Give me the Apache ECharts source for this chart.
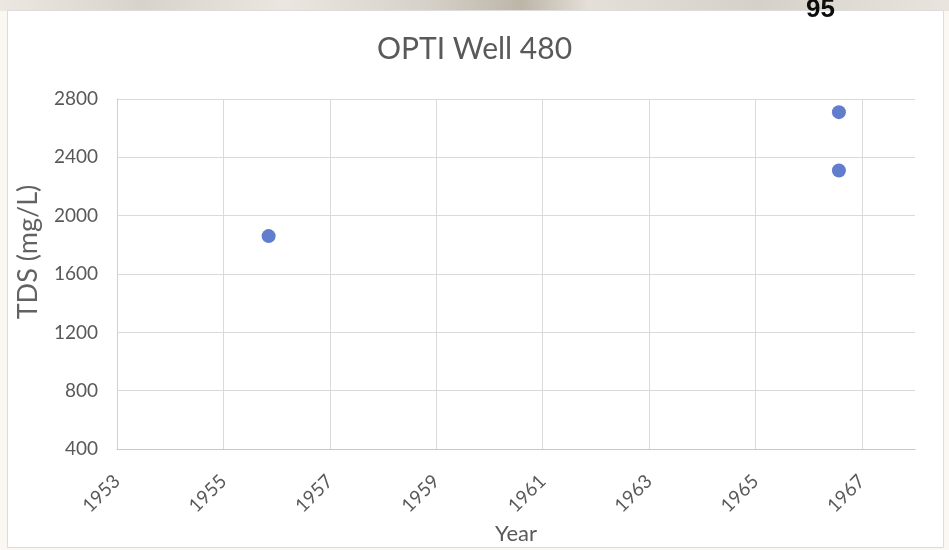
<!DOCTYPE html>
<html>
<head>
<meta charset="utf-8">
<script src="https://cdn.jsdelivr.net/npm/echarts@6/dist/echarts.min.js"></script>
<style>
  html, body { margin: 0; padding: 0; background: #fbf8f3; }
  #chart { width: 949px; height: 550px; }
</style>
</head>
<body>
<div id="chart"></div>
<script>
// Sample dates (decimal years) and total dissolved solids readings
const sampleYears = [1955.85, 1966.57, 1966.57];
const tdsValues = [1860, 2710, 2310];

// Axis ranges and tick labels
const yearStart = 1953;
const yearEnd = 1968;
const yearStep = 2;
const tdsMin = 400;
const tdsMax = 2800;
const tdsStep = 400;

const chartTitle = 'OPTI Well 480';
const pageNumber = '95';

const points = sampleYears.map((y, i) => [y, tdsValues[i]]);
const labelFont = 'Lato, "Open Sans", sans-serif';
const textColor = '#595959';

const chart = echarts.init(document.getElementById('chart'), null, { renderer: 'canvas' });

chart.setOption({
  animation: false,
  backgroundColor: '#fbf8f3',
  title: {
    text: chartTitle,
    left: 'center',
    top: 29,
    textStyle: { fontFamily: labelFont, fontSize: 30, fontWeight: 'normal', color: textColor }
  },
  graphic: [
    // textured strip along the top of the page
    {
      type: 'rect', z: -10, silent: true,
      shape: { x: 0, y: 0, width: 949, height: 11 },
      style: {
        fill: {
          type: 'linear', x: 0, y: 0, x2: 1, y2: 0,
          colorStops: [
            { offset: 0, color: '#ece8e1' }, { offset: 0.15, color: '#d8d3ca' },
            { offset: 0.3, color: '#ebe7e0' }, { offset: 0.45, color: '#d6d1c8' },
            { offset: 0.55, color: '#bdb5a8' }, { offset: 0.62, color: '#e4dfd7' },
            { offset: 0.8, color: '#d6d1c8' }, { offset: 1, color: '#e9e5de' }
          ]
        }
      }
    },
    // chart card
    {
      type: 'rect', z: -9, silent: true,
      shape: { x: 7.5, y: 10.5, width: 936, height: 537 },
      style: { fill: '#ffffff', stroke: '#dcdcdc', lineWidth: 1 }
    },
    // page number
    {
      type: 'text', z: 10, silent: true,
      left: 806, top: -3,
      style: {
        text: pageNumber,
        font: 'bold 26px "Liberation Sans", Arial, sans-serif',
        fill: '#0d0d0d'
      }
    }
  ],
  grid: { left: 117, right: 34, top: 99, bottom: 100, containLabel: false },
  xAxis: [
    {
      // data axis in calendar years
      type: 'value',
      min: yearStart,
      max: yearEnd,
      show: false
    },
    {
      // labelled axis: offsets from the first year, ticks every two years
      type: 'value',
      position: 'bottom',
      min: 0,
      max: yearEnd - yearStart,
      interval: yearStep,
      name: 'Year',
      nameLocation: 'middle',
      nameGap: 72,
      nameTextStyle: { fontFamily: labelFont, fontSize: 22, color: textColor },
      axisLine: { show: true, lineStyle: { color: '#c8c8c8', width: 1 } },
      axisTick: { show: false },
      axisLabel: {
        rotate: 45,
        margin: 29,
        showMaxLabel: false,
        fontFamily: labelFont,
        fontSize: 19,
        color: textColor,
        formatter: v => String(yearStart + v)
      },
      splitLine: { show: true, showMaxLine: false, lineStyle: { color: '#dadada', width: 1 } }
    }
  ],
  yAxis: {
    type: 'value',
    min: tdsMin,
    max: tdsMax,
    interval: tdsStep,
    name: 'TDS (mg/L)',
    nameLocation: 'middle',
    nameGap: 75,
    nameRotate: 90,
    nameTextStyle: { fontFamily: labelFont, fontSize: 27, color: '#626262', padding: [0, 0, 0, 44] },
    axisLine: { show: true, lineStyle: { color: '#d0d0d0', width: 1 } },
    axisTick: { show: false },
    axisLabel: {
      margin: 19, fontFamily: labelFont, fontSize: 19, color: textColor,
      formatter: v => String(v)
    },
    splitLine: { show: true, lineStyle: { color: '#dadada', width: 1 } }
  },
  series: [
    {
      type: 'scatter',
      xAxisIndex: 0,
      data: points,
      symbol: 'circle',
      symbolSize: 14,
      itemStyle: { color: '#3a5cc0' }
    }
  ]
});
</script>
</body>
</html>
